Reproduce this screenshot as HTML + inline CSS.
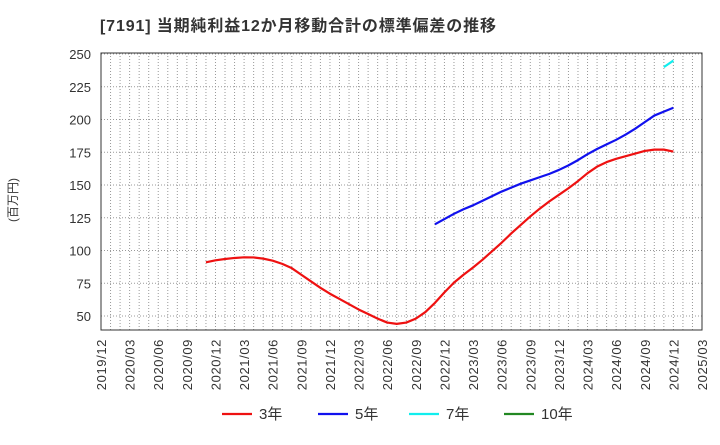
<!DOCTYPE html>
<html><head><meta charset="utf-8"><style>
body{margin:0;background:#fff;font-family:"Liberation Sans","Noto Sans CJK JP",sans-serif;}
</style></head><body>
<svg width="720" height="440" xmlns="http://www.w3.org/2000/svg" id="chart" font-family="Liberation Sans, Noto Sans CJK JP, sans-serif">
<text x="100" y="31" font-size="16" font-weight="bold" fill="#333" textLength="396">[7191]  当期純利益12か月移動合計の標準偏差の推移</text>
<text transform="translate(17,200) rotate(-90)" font-size="12" fill="#333" text-anchor="middle">(百万円)</text>
<g id="grid"></g><g id="axes"></g><g id="series"></g>
<g id="legend"></g>
</svg>
<script>
const yTicks=[50,75,100,125,150,175,200,225,250];
const xTickLabels=["2019/12","2020/03","2020/06","2020/09","2020/12","2021/03","2021/06","2021/09","2021/12","2022/03","2022/06","2022/09","2022/12","2023/03","2023/06","2023/09","2023/12","2024/03","2024/06","2024/09","2024/12","2025/03"];
const red3Start=11;
const red3=[91,92.5,93.5,94.3,94.8,94.7,93.8,92.2,89.8,86.5,81.5,76.5,71.5,67,63,59,55,51.5,48,45,44,45,48,53,60,68,75.5,81.5,87,93,99.5,106,113,119.5,126,132,137.5,142.5,147.5,153,159,164,167.5,170,172,174,176,177,177,175.5];
const blue5Start=35;
const blue5=[120,124,128,131.5,134.5,138,141.5,145,148,151,153.5,156,158.5,161.5,165,169,173.5,177.5,181,184.5,188.5,193,198,203,206,209];
const cyan7Start=59;
const cyan7=[240,245];
const green10Start=0;
const green10=[];
const NS="http://www.w3.org/2000/svg";
const L=101,R=702,T=53,B=330;
const X=m=>L+(R-L)*m/63;
const Y=v=>316-(v-50)*262/200;
function mk(tag,attrs,parent){const e=document.createElementNS(NS,tag);for(const k in attrs)e.setAttribute(k,attrs[k]);parent.appendChild(e);return e;}
const grid=document.getElementById('grid'),axes=document.getElementById('axes'),ser=document.getElementById('series'),leg=document.getElementById('legend');
for(let m=1;m<63;m++){const l=mk('line',{x1:X(m),x2:X(m),y1:T,y2:B,stroke:'#999','stroke-dasharray':'1,2','stroke-width':1},grid);

}
yTicks.forEach(v=>{const l=mk('line',{x1:L,x2:R,y1:Y(v),y2:Y(v),stroke:'#999','stroke-dasharray':'1,2'},grid);


const t=mk('text',{x:91,y:Y(v)+5,'text-anchor':'end','font-size':13,fill:'#333'},axes);t.textContent=v;

});
xTickLabels.forEach((s,i)=>{const x=X(i*3);const t=mk('text',{transform:`translate(${x+5},339) rotate(-90)`,'text-anchor':'end','font-size':13,'letter-spacing':'0.6',fill:'#333'},axes);t.textContent=s;

});
const fr=mk('rect',{x:L,y:T,width:R-L,height:B-T,fill:'none',stroke:'#333','stroke-width':1},axes);


function line(data,start,color,name){if(!data.length)return;const p=mk('polyline',{points:data.map((v,i)=>X(start+i)+','+Y(v)).join(' '),fill:'none',stroke:color,'stroke-width':2.2,'stroke-linejoin':'round'},ser);

}
line(red3,red3Start,'#ee1111','series-3yr');
line(blue5,blue5Start,'#1111ee','series-5yr');
line(cyan7,cyan7Start,'#11eeee','series-7yr');
line(green10,green10Start,'#228822','series-10yr');
const items=[['3年','#ee1111',222],['5年','#1111ee',318],['7年','#11eeee',409],['10年','#228822',504]];
items.forEach(([lab,c,x])=>{const g=mk('g',{},leg);


mk('line',{x1:x,x2:x+30,y1:414,y2:414,stroke:c,'stroke-width':2.2},g);
const t=mk('text',{x:x+37,y:419,'font-size':15,fill:'#333'},g);t.textContent=lab;});
</script>
</body></html>
